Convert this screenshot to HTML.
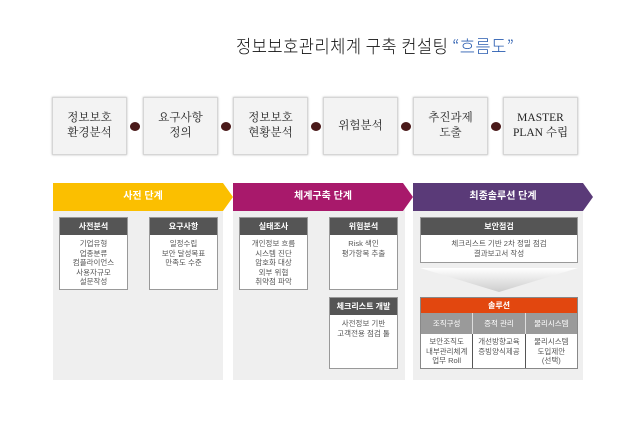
<!DOCTYPE html>
<html><head><meta charset="utf-8"><style>
*{margin:0;padding:0;box-sizing:border-box}
body{width:640px;height:432px;background:#fff;position:relative;overflow:hidden;font-family:"Liberation Serif","Noto Serif CJK SC","Noto Sans CJK KR",serif;color:#333}
.a{position:absolute}
.step{position:absolute;top:97px;height:58px;width:75px;background:#f3f3f3;border:1px solid #d6d6d6;box-shadow:0 0 2px #bbb;display:flex;align-items:center;justify-content:center;text-align:center;font-size:11.5px;line-height:15px;color:#222}
.dot{position:absolute;top:122px;width:10px;height:9px;border-radius:50%;background:#4a1a1a}
.panel{position:absolute;top:207px;height:173px;background:#efefef}
.box{position:absolute;background:#fff;border:1px solid #999;font-family:"Liberation Sans","Noto Sans CJK KR",sans-serif;font-size:7.5px;line-height:9.5px;text-align:center;color:#555}
.hd{background:#555;color:#fff;font-weight:bold;height:17px;line-height:17px;font-size:8px}
.bd{padding-top:4px}
.ban{position:absolute;top:183px;height:28px;color:#fff;font-weight:bold;font-family:"Liberation Sans","Noto Sans CJK KR",sans-serif;font-size:10px;line-height:28px;text-align:center}
</style></head><body>
<div class="a" style="left:236px;top:33px;font-size:18px;font-weight:300;font-family:'Noto Sans CJK KR',sans-serif;color:#111;letter-spacing:0.5px;transform:scaleX(0.92);transform-origin:left">정보보호관리체계 구축 컨설팅 <span style="color:#2a5db0">“흐름도”</span></div>

<div class="step" style="left:52px">정보보호<br>환경분석</div>
<div class="step" style="left:143px">요구사항<br>정의</div>
<div class="step" style="left:233px">정보보호<br>현황분석</div>
<div class="step" style="left:323px">위험분석</div>
<div class="step" style="left:413px">추진과제<br>도출</div>
<div class="step" style="left:503px">MASTER<br>PLAN 수립</div>
<div class="dot" style="left:130px"></div>
<div class="dot" style="left:221px"></div>
<div class="dot" style="left:311px"></div>
<div class="dot" style="left:401px"></div>
<div class="dot" style="left:491px"></div>

<div class="panel" style="left:53px;width:170px"></div>
<div class="panel" style="left:233px;width:172px"></div>
<div class="panel" style="left:413px;width:170px"></div>

<div class="ban" style="left:53px;width:180px;background:#fbbf00;clip-path:polygon(0 0,170px 0,180px 50%,170px 100%,0 100%)">사전 단계</div>
<div class="ban" style="left:233px;width:180px;background:#a8196b;clip-path:polygon(0 0,170px 0,180px 50%,170px 100%,0 100%)">체계구축 단계</div>
<div class="ban" style="left:413px;width:180px;background:#5a3a78;clip-path:polygon(0 0,170px 0,180px 50%,170px 100%,0 100%)">최종솔루션 단계</div>

<div class="box" style="left:59px;top:217px;width:69px;height:73px"><div class="hd">사전분석</div><div class="bd">기업유형<br>업종분류<br>컴플라이언스<br>사용자규모<br>설문작성</div></div>
<div class="box" style="left:149px;top:217px;width:69px;height:73px"><div class="hd">요구사항</div><div class="bd">일정수립<br>보안 달성목표<br>만족도 수준</div></div>
<div class="box" style="left:239px;top:217px;width:69px;height:73px"><div class="hd">실태조사</div><div class="bd">개인정보 흐름<br>시스템 진단<br>암호화 대상<br>외부 위협<br>취약점 파악</div></div>
<div class="box" style="left:329px;top:217px;width:69px;height:73px"><div class="hd">위험분석</div><div class="bd">Risk 색인<br>평가항목 추출</div></div>
<div class="box" style="left:329px;top:297px;width:69px;height:72px"><div class="hd">체크리스트 개발</div><div class="bd">사전정보 기반<br>고객전용 점검 툴</div></div>

<div class="box" style="left:420px;top:217px;width:158px;height:46px"><div class="hd">보안점검</div><div class="bd">체크리스트 기반 2차 정밀 점검<br>결과보고서 작성</div></div>
<div class="a" style="left:420px;top:268px;width:158px;height:24px;background:linear-gradient(#fff,#ccc);clip-path:polygon(0 0,100% 0,50% 100%)"></div>
<div class="box" style="left:420px;top:297px;width:158px;height:72px;border-color:#888">
<div style="background:#e2470f;color:#fff;font-weight:bold;height:15px;line-height:15px;font-size:8px">솔루션</div>
<div style="display:flex;height:21px;background:#9a9a9a;color:#fff;line-height:21px"><div style="flex:1">조직구성</div><div style="flex:1;border-left:1px solid #ddd">증적 관리</div><div style="flex:1;border-left:1px solid #ddd">물리시스템</div></div>
<div style="display:flex;height:34px"><div style="flex:1;padding-top:3px">보안조직도<br>내부관리체계<br>업무 Roll</div><div style="flex:1;border-left:1px solid #555;padding-top:3px">개선방향교육<br>증빙양식제공</div><div style="flex:1;border-left:1px solid #555;padding-top:3px">물리시스템<br>도입제안<br>(선택)</div></div>
</div>
</body></html>
